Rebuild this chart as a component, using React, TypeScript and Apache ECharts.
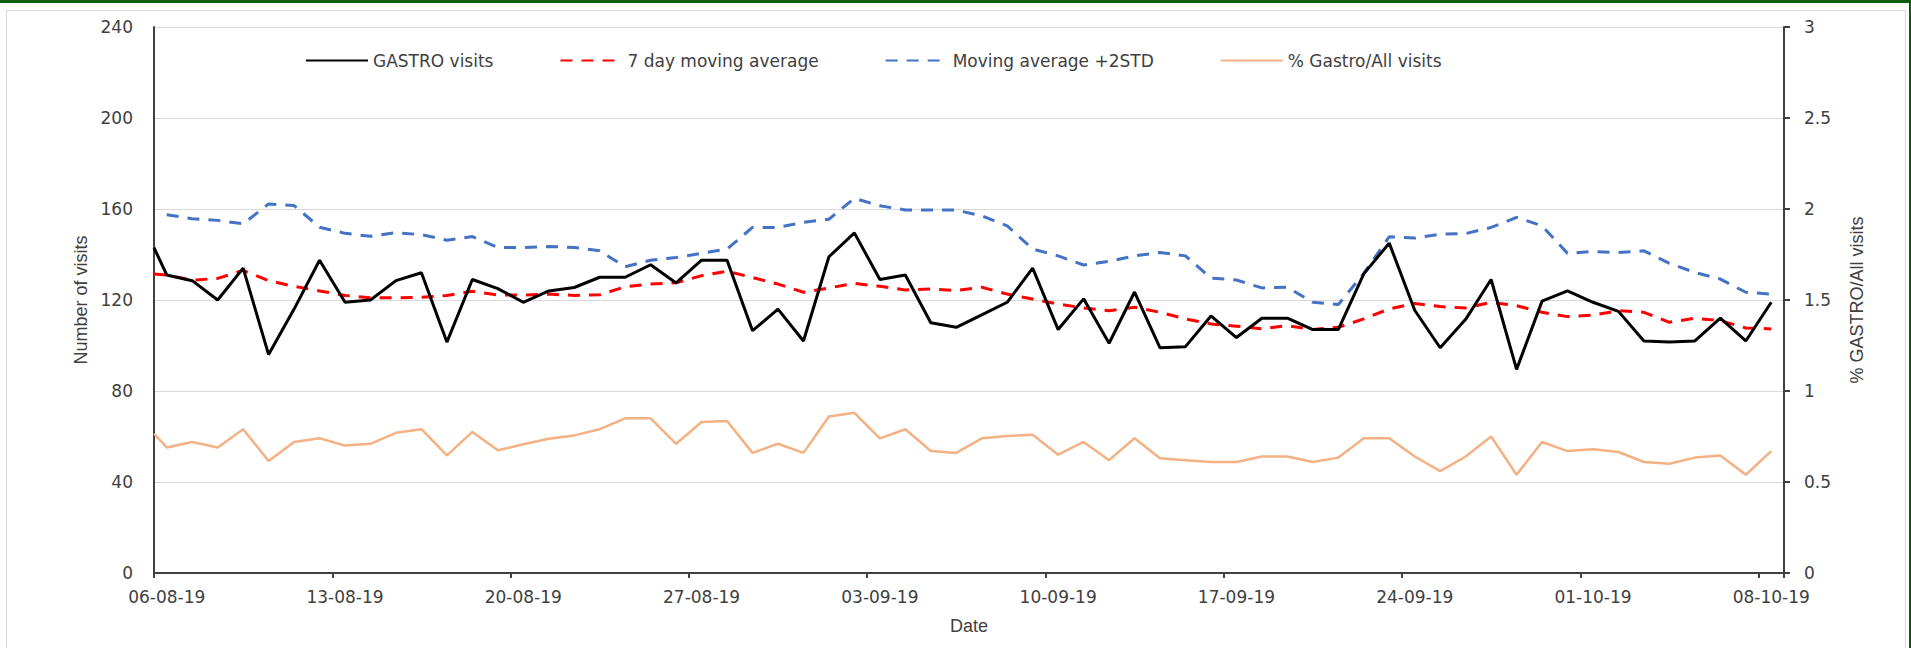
import React, { useEffect, useRef } from "react";
import * as echarts from "echarts";

const dates = [
  "06-08-19", "07-08-19", "08-08-19", "09-08-19", "10-08-19", "11-08-19", "12-08-19",
  "13-08-19", "14-08-19", "15-08-19", "16-08-19", "17-08-19", "18-08-19", "19-08-19",
  "20-08-19", "21-08-19", "22-08-19", "23-08-19", "24-08-19", "25-08-19", "26-08-19",
  "27-08-19", "28-08-19", "29-08-19", "30-08-19", "31-08-19", "01-09-19", "02-09-19",
  "03-09-19", "04-09-19", "05-09-19", "06-09-19", "07-09-19", "08-09-19", "09-09-19",
  "10-09-19", "11-09-19", "12-09-19", "13-09-19", "14-09-19", "15-09-19", "16-09-19",
  "17-09-19", "18-09-19", "19-09-19", "20-09-19", "21-09-19", "22-09-19", "23-09-19",
  "24-09-19", "25-09-19", "26-09-19", "27-09-19", "28-09-19", "29-09-19", "30-09-19",
  "01-10-19", "02-10-19", "03-10-19", "04-10-19", "05-10-19", "06-10-19", "07-10-19",
  "08-10-19",
];

const gastroVisits = [
  131, 128.5, 120, 134, 96, 116, 137.5, 119, 120, 128.5, 132,
  101.5, 129, 125, 119, 124, 125.5, 130, 130, 135.5, 127.5,
  137.5, 137.5, 106.5, 116, 102, 139, 149.5, 129, 131, 110, 108,
  113.5, 119, 134, 107, 120.5, 101, 123.5, 99, 99.5, 113, 103.5,
  112, 112, 107, 107, 131.5, 145, 115.5, 99, 111.5, 129,
  89.5, 119.5, 124, 119, 115, 102, 101.5, 102, 112, 102, 119,
];

const movingAverage = [
  131, 128.7, 129.5, 133, 128.5, 126, 124, 122, 121, 121, 121.2,
  122, 123.8, 122.2, 122.2, 122.6, 122, 122.3, 125.8, 127, 127.6,
  130.7, 132.6, 129.9, 127, 123.4, 125.3, 127.3, 126, 124.4, 124.8, 124.2,
  125.6, 122.6, 120.4, 118.2, 116.5, 115.3, 116.8, 114.6, 111.7, 109.5, 108.5,
  107.3, 108.7, 107, 108, 111.7, 116.1, 118.5, 117.1, 116.5, 119,
  117.5, 114.6, 112.7, 113.4, 115.3, 114.6, 110.2, 112, 110.9, 107.7, 107.3,
];

const movingAveragePlus2Std = [
  157.5, 155.7, 155, 153.5, 162.2, 161.5, 152, 149.3, 148, 149.6, 148.7,
  146.3, 147.9, 143.1, 143.1, 143.5, 143.1, 141.6, 134.6, 137.5, 138.7,
  140.5, 142.4, 151.9, 151.9, 154.1, 155.5, 164.7, 161.4, 159.6, 159.6, 159.5,
  157, 152.6, 142.4, 139.4, 135.4, 137, 139.4, 140.9, 139.4, 129.6, 128.8,
  125.3, 125.6, 119, 118, 131.7, 147.8, 147.2, 148.9, 149.2, 151.9,
  156.3, 152.6, 140.5, 141.3, 140.9, 141.6, 136.1, 132.1, 129.2, 123.4, 122.6,
];

const gastroShare = [
  0.69, 0.72, 0.69, 0.79, 0.615, 0.72, 0.74, 0.7, 0.71, 0.77, 0.79,
  0.646, 0.775, 0.674, 0.707, 0.738, 0.756, 0.79, 0.85, 0.85, 0.71,
  0.83, 0.835, 0.66, 0.71, 0.66, 0.86, 0.88, 0.74, 0.79, 0.67, 0.66,
  0.74, 0.753, 0.76, 0.65, 0.72, 0.62, 0.74, 0.63, 0.62, 0.61, 0.61,
  0.64, 0.64, 0.61, 0.634, 0.74, 0.74, 0.64, 0.56, 0.64, 0.75,
  0.54, 0.72, 0.67, 0.68, 0.665, 0.61, 0.6, 0.634, 0.646, 0.54, 0.67,
];

// values where three of the lines begin, at the left edge of the plot
const gastroVisitsAtEdge = 143;
const movingAverageAtEdge = 131.4;
const gastroShareAtEdge = 0.765;

const leftTicks = { min: 0, max: 240, interval: 40 };
const rightTicks = { min: 0, max: 3, interval: 0.5 };

const seriesNames = [
  "GASTRO visits",
  "7 day moving average",
  "Moving average +2STD",
  "% Gastro/All visits",
];

const LABEL_FONT = "Verdana, 'DejaVu Sans', sans-serif";
const TITLE_FONT = "'Liberation Sans', Arial, sans-serif";

function centred(values: number[], edge?: number) {
  const pts = values.map((v, i) => [i + 0.5, v]);
  return edge === undefined ? pts : [[0, edge], ...pts];
}

export default function App() {
  const ref = useRef<HTMLDivElement>(null);

  useEffect(() => {
    if (!ref.current) return;
    const chart = echarts.init(ref.current, undefined, { renderer: "svg" });
    chart.setOption({
      animation: false,
      legend: {
        data: seriesNames,
        left: 300,
        top: 47,
        itemWidth: 62,
        itemHeight: 14,
        itemGap: 66,
        itemStyle: { opacity: 0 },
        textStyle: { fontFamily: LABEL_FONT, fontSize: 17, color: "#404040" },
      },
      grid: { left: 154, top: 27, width: 1630, height: 546, containLabel: false },
      xAxis: [
        {
          type: "category",
          data: dates,
          boundaryGap: true,
          name: "Date",
          nameLocation: "middle",
          nameGap: 44,
          nameTextStyle: { fontFamily: TITLE_FONT, fontSize: 18, color: "#404040" },
          axisLine: { show: true, lineStyle: { color: "#404040", width: 2 } },
          axisTick: { show: true, interval: 6, alignWithLabel: false, length: 5, lineStyle: { color: "#404040", width: 2 } },
          axisLabel: { interval: 6, margin: 15, fontFamily: LABEL_FONT, fontSize: 17, color: "#404040" },
          splitLine: { show: false },
        },
        {
          type: "value",
          min: 0,
          max: dates.length,
          show: false,
          splitLine: { show: false },
        },
      ],
      yAxis: [
        {
          type: "value",
          ...leftTicks,
          name: "Number of visits",
          nameLocation: "middle",
          nameRotate: 90,
          nameGap: 62,
          nameTextStyle: { fontFamily: TITLE_FONT, fontSize: 18, color: "#404040" },
          axisLine: { show: true, lineStyle: { color: "#404040", width: 2 } },
          axisTick: { show: false },
          axisLabel: { margin: 21, fontFamily: LABEL_FONT, fontSize: 17, color: "#404040" },
          splitLine: { show: true, lineStyle: { color: "#d9d9d9", width: 1 } },
        },
        {
          type: "value",
          ...rightTicks,
          position: "right",
          name: "% GASTRO/All visits",
          nameLocation: "middle",
          nameRotate: 90,
          nameGap: 64,
          nameTextStyle: { fontFamily: TITLE_FONT, fontSize: 18, color: "#404040" },
          axisLine: { show: true, lineStyle: { color: "#404040", width: 2 } },
          axisTick: { show: true, length: 6, lineStyle: { color: "#404040", width: 2 } },
          axisLabel: { margin: 20, fontFamily: LABEL_FONT, fontSize: 17, color: "#404040" },
          splitLine: { show: false },
        },
      ],
      series: [
        {
          name: seriesNames[0],
          type: "line",
          xAxisIndex: 1,
          yAxisIndex: 0,
          symbol: "none",
          data: centred(gastroVisits, gastroVisitsAtEdge),
          lineStyle: { color: "#000000", width: 3 },
          itemStyle: { color: "#000000" },
          z: 4,
        },
        {
          name: seriesNames[1],
          type: "line",
          xAxisIndex: 1,
          yAxisIndex: 0,
          symbol: "none",
          data: centred(movingAverage, movingAverageAtEdge),
          lineStyle: { color: "#ff0000", width: 3, type: [12, 9] },
          itemStyle: { color: "#ff0000" },
          z: 3,
        },
        {
          name: seriesNames[2],
          type: "line",
          xAxisIndex: 1,
          yAxisIndex: 0,
          symbol: "none",
          data: centred(movingAveragePlus2Std),
          lineStyle: { color: "#4472c4", width: 3, type: [12, 9] },
          itemStyle: { color: "#4472c4" },
          z: 3,
        },
        {
          name: seriesNames[3],
          type: "line",
          xAxisIndex: 1,
          yAxisIndex: 1,
          symbol: "none",
          data: centred(gastroShare, gastroShareAtEdge),
          lineStyle: { color: "#f4b183", width: 2.5 },
          itemStyle: { color: "#f4b183" },
          z: 2,
        },
      ],
    });
    return () => chart.dispose();
  }, []);

  return (
    <div
      style={{
        position: "absolute",
        left: 0,
        top: 0,
        width: 1911,
        height: 648,
        background: "#ffffff",
        overflow: "hidden",
      }}
    >
      <div style={{ position: "absolute", left: 0, top: 0, width: 1911, height: 3, background: "#0b5e0b" }} />
      <div style={{ position: "absolute", right: 0, top: 0, width: 2, height: 648, background: "#0b5e0b" }} />
      <div
        style={{
          position: "absolute",
          left: 6,
          top: 10,
          width: 1900,
          height: 660,
          border: "1px solid #d9d9d9",
          boxSizing: "border-box",
        }}
      />
      <div ref={ref} style={{ position: "absolute", left: 0, top: 0, width: 1911, height: 648 }} />
    </div>
  );
}
